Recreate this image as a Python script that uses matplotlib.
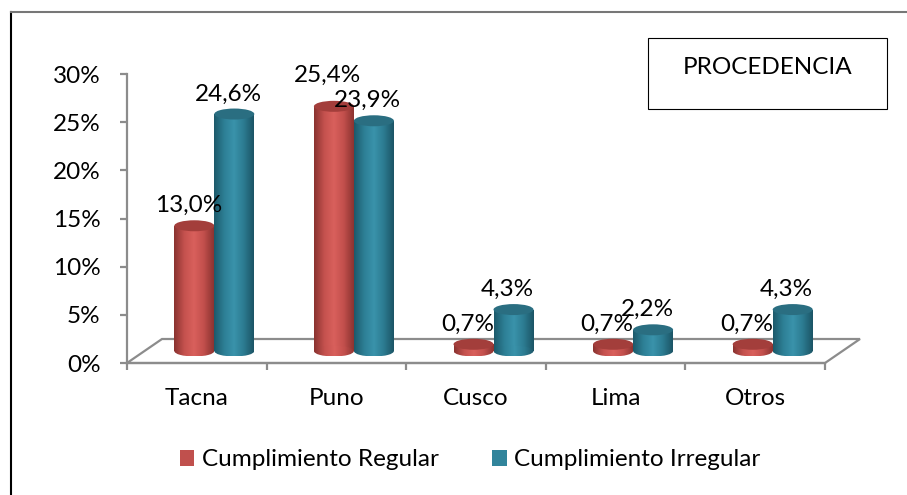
import numpy as np
import matplotlib
matplotlib.use('Agg')
import matplotlib.pyplot as plt
from matplotlib.patches import Ellipse, Rectangle, Polygon, Patch
from matplotlib.lines import Line2D
from matplotlib.colors import LinearSegmentedColormap

categorias = ['Tacna', 'Puno', 'Cusco', 'Lima', 'Otros']
regular = [13.0, 25.4, 0.7, 0.7, 0.7]
irregular = [24.6, 23.9, 4.3, 2.2, 4.3]
series = ['Cumplimiento Regular', 'Cumplimiento Irregular']
yticks = [0, 5, 10, 15, 20, 25, 30]

plt.rcParams['font.family'] = ['Lato', 'DejaVu Sans']
FS = 17.5

W, H = 907, 495
S = 139.6   # px per category
P = 9.633   # px per percent
X0, Y0 = 127, 363   # pixel position of the axes origin

def px_x(px):
	return (px - X0) / S - 0.5

def px_y(py):
	return (Y0 - py) / P

fig = plt.figure(figsize=(W / 100, H / 100), dpi=100)
ax = fig.add_axes([0, 0, 1, 1])
ax.set_facecolor('none')

# depth of the 3d floor, in data units
dx = 35 / S
dy = 24 / P
grey = '#8c8c8c'

# floor
n = len(categorias)
floor = Polygon([(-0.5, 0), (n - 0.5, 0), (n - 0.5 + dx, dy), (-0.5 + dx, dy)],
	closed=True, fc='white', ec=grey, lw=1.6, zorder=1)
ax.add_patch(floor)

red_cmap = LinearSegmentedColormap.from_list('r', ['#8a3330', '#c4514e', '#d9605c', '#c24f4c', '#8c3431'])
teal_cmap = LinearSegmentedColormap.from_list('t', ['#1d5a6b', '#2d7f95', '#3a93ab', '#2c7b91', '#1c5566'])
colors = ['#c0504d', '#31849b']
tops = ['#a33e3b', '#2a6e81']
cmaps = [red_cmap, teal_cmap]

bw = 40 / S
eh = 11 / P
grad = np.linspace(0, 1, 64).reshape(1, -1)

def cylinder(xc, base, h, cmap, topcolor, z):
	rect = ax.bar(xc, h, width=bw, bottom=base, color='none', ec='none', zorder=z)[0]
	im = ax.imshow(grad, cmap=cmap, extent=(xc - bw / 2, xc + bw / 2, base, base + h),
		aspect='auto', interpolation='bilinear', zorder=z)
	im.set_clip_path(rect)
	bot = Ellipse((xc, base), bw, eh, fc='none', ec='none', zorder=z)
	ax.add_patch(bot)
	im2 = ax.imshow(grad, cmap=cmap, extent=(xc - bw / 2, xc + bw / 2, base - eh / 2, base + eh / 2),
		aspect='auto', interpolation='bilinear', zorder=z)
	im2.set_clip_path(bot)
	ax.add_patch(Ellipse((xc, base + h), bw, eh, fc=topcolor, ec='none', zorder=z + 0.5))

base = dy / 2
z = 3
for i in range(n):
	for s, vals in enumerate([regular, irregular]):
		xc = i + dx / 2 + (s - 0.5) * bw
		v = vals[i]
		cylinder(xc, base, v, cmaps[s], tops[s], z)
		z += 1
		lab = f'{v:.1f}%'.replace('.', ',')
		lift = 20
		# Excel lifts the Puno label so it clears its neighbour
		if i == 1 and s == 0:
			lift = 31
		ax.text(xc - 6 / S, base + v + lift / P, lab, ha='center', va='center',
			fontsize=FS, zorder=50)

# axes
for side in ['top', 'right']:
	ax.spines[side].set_visible(False)
ax.spines['left'].set_position(('data', -0.5))
ax.spines['left'].set_bounds(0, 30)
ax.spines['bottom'].set_position(('data', 0))
ax.spines['bottom'].set_bounds(-0.5, n - 0.5)
for side in ['left', 'bottom']:
	ax.spines[side].set_color(grey)
	ax.spines[side].set_linewidth(1.6)
	ax.spines[side].set_zorder(2)

ax.set_yticks(yticks)
ax.set_yticklabels([f'{t}%' for t in yticks])
ax.tick_params(axis='y', direction='out', length=5, width=1.6, color=grey,
	labelsize=FS, pad=14)
ax.set_xticks(range(n))
ax.set_xticklabels(categorias)
ax.set_xticks(np.arange(n + 1) - 0.5, minor=True)
ax.tick_params(axis='x', which='major', length=0, labelsize=FS, pad=18)
ax.tick_params(axis='x', which='minor', direction='out', length=5, width=1.6, color=grey)

ax.set_xlim(px_x(0), px_x(W))
ax.set_ylim(px_y(H), px_y(0))

# title box
fig.patches.append(Rectangle((648 / W, 1 - 109 / H), 239 / W, 71 / H,
	transform=fig.transFigure, fill=False, ec='black', lw=0.8))
fig.text(768 / W, 1 - 67 / H, 'PROCEDENCIA', ha='center', va='center', fontsize=FS)

# chart border (left and top only visible)
fig.add_artist(Line2D([11 / W, 11 / W], [0, 1 - 12 / H], color='black', lw=1.5))
fig.add_artist(Line2D([11 / W, 1], [1 - 12 / H, 1 - 12 / H], color='#777777', lw=1.5))

handles = [Patch(fc=c) for c in colors]
fig.legend(handles, series, loc='center', bbox_to_anchor=(470 / W, 1 - 460 / H), ncol=2,
	frameon=False, fontsize=FS, handlelength=0.6, handleheight=0.6,
	handletextpad=0.3, columnspacing=2.2)

plt.savefig('out.png', dpi=100)
